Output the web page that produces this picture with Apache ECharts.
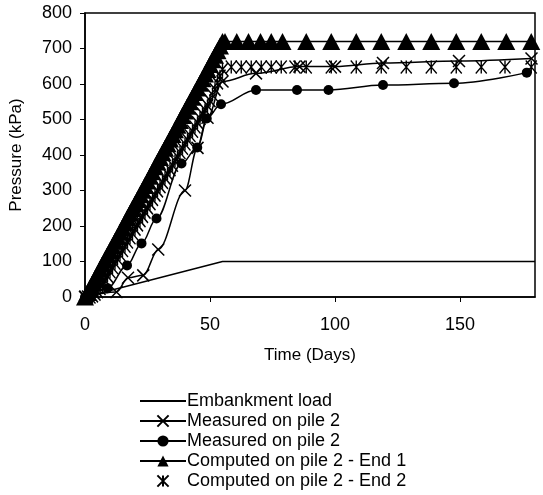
<!DOCTYPE html>
<html>
<head>
<meta charset="utf-8">
<script src="https://cdn.jsdelivr.net/npm/echarts@6/dist/echarts.min.js"></script>
<style>
html,body{margin:0;padding:0;background:#fff;}
#chart{width:543px;height:495px;}
</style>
</head>
<body>
<div id="chart"></div>
<script>
// ---- data ----
const embT = [0, 55, 180];
const embP = [0, 100, 100];

const measXT = [0, 12.6, 17.2, 23.3, 29.3, 40, 45, 49, 55, 68.4, 85.8, 100, 119.2, 149.6, 178.6];
const measXP = [0, 14, 54, 61, 134, 300, 420, 505, 607, 630, 649, 649, 659, 665, 672];

const measDT = [0, 9, 16.8, 22.6, 28.6, 38.6, 44.9, 48.7, 54.4, 68.4, 84.8, 97.4, 119.2, 147.6, 176.7];
const measDP = [0, 25, 89, 151, 221, 376, 421, 503, 543, 583, 583, 583, 597, 602, 632];

const comp1T = [0,1,2,3,4,5,6,7,8,9,10,11,12,13,14,15,16,17,18,19,20,21,22,23,24,25,26,27,28,29,30,31,32,33,34,35,36,37,38,39,40,41,42,43,44,45,46,47,48,49,50,51,52,53,54,55,
                56,60.7,65.4,70.2,74.5,79,88.5,98.5,108.5,118.5,128.5,138.5,148.5,158.5,168.5,178.5];
const comp1P = [0,13,26,39,52,65,79,92,105,118,131,144,157,170,183,196,209,223,236,249,262,275,288,301,314,327,340,353,367,380,393,406,419,432,445,458,471,484,497,511,524,537,550,563,576,589,602,615,628,641,655,668,681,694,707,720,
                720,720,720,720,720,720,720,720,720,720,720,720,720,720,720,720];

const comp2T = [0,1,2,3,4,5,6,7,8,9,10,11,12,13,14,15,16,17,18,19,20,21,22,23,24,25,26,27,28,29,30,31,32,33,34,35,36,37,38,39,40,41,42,43,44,45,46,47,48,49,50,51,52,53,54,55,
                58.5,62.5,66.5,70.5,74.5,78.5,84,88.5,98.5,108.5,118.5,128.5,138.5,148.5,158.5,168,178.5];
const comp2P = [0,0,0,3,8,15,24,35,47,59,71,83,95,107,119,131,143,155,167,179,191,203,215,227,239,251,263,275,287,299,311,323,335,347,359,371,383,395,407,419,431,443,455,467,479,491,503,515,527,539,553,569,585,603,622,641,
                648,648,648,648,648,648,648,648,648,648,648,648,648,648,648,648,648];

const xTicks = [0, 50, 100, 150];
const yTicks = [0, 100, 200, 300, 400, 500, 600, 700, 800];

const zip = (a, b) => a.map((v, i) => [v, b[i]]);

const FONT = 'Liberation Sans, Arial, sans-serif';
const X_PATH = 'path://M0,0L10,10M10,0L0,10';
const AST_PATH = 'path://M0,0L10,12M10,0L0,12M5,0L5,12';

const chart = echarts.init(document.getElementById('chart'), null, {renderer: 'canvas'});
chart.setOption({
  animation: false,
  backgroundColor: '#fff',
  textStyle: {fontFamily: FONT, color: '#000'},
  grid: {left: 85, right: 8, top: 13, bottom: 198, show: true, borderColor: '#000', borderWidth: 1.5, backgroundColor: 'transparent'},
  xAxis: {
    type: 'value', min: 0, max: 180, interval: 50,
    name: 'Time (Days)', nameLocation: 'middle', nameGap: 50,
    nameTextStyle: {fontSize: 17, color: '#000', fontFamily: FONT},
    axisLine: {show: true, lineStyle: {color: '#000', width: 1.5}},
    axisTick: {show: true, inside: false, length: 5, lineStyle: {color: '#000', width: 1}, customValues: xTicks},
    axisLabel: {fontSize: 18, color: '#000', margin: 19, fontFamily: FONT, customValues: xTicks},
    splitLine: {show: false}
  },
  yAxis: {
    type: 'value', min: 0, max: 800, interval: 100,
    name: 'Pressure (kPa)', nameLocation: 'middle', nameGap: 60, nameRotate: 90,
    nameTextStyle: {fontSize: 17, color: '#000', fontFamily: FONT},
    axisLine: {show: true, lineStyle: {color: '#000', width: 1.5}},
    axisTick: {show: true, inside: false, length: 5, lineStyle: {color: '#000', width: 1}, customValues: yTicks},
    axisLabel: {fontSize: 18, color: '#000', margin: 13, fontFamily: FONT, customValues: yTicks},
    splitLine: {show: false}
  },
  legend: {
    orient: 'vertical', left: 134, top: 386, height: 110,
    itemWidth: 46, itemHeight: 14, itemGap: 0,
    textStyle: {fontSize: 18, lineHeight: 20, color: '#000', fontFamily: FONT, padding: [0, 0, 0, -4]},
    data: [
      {name: 'Embankment load'},
      {name: 'Measured on pile 2'},
      {name: 'Measured on pile 2 '},
      {name: 'Computed on pile 2 - End 1'},
      {name: 'Computed on pile 2 - End 2'}
    ]
  },
  series: [
    {
      name: 'Embankment load', type: 'line', data: zip(embT, embP),
      symbol: 'rect', showSymbol: false,
      lineStyle: {color: '#000', width: 1.5}, itemStyle: {color: 'rgba(0,0,0,0)', borderWidth: 0}
    },
    {
      name: 'Measured on pile 2', type: 'line', data: zip(measXT, measXP),
      smooth: 0.35, smoothMonotone: 'x',
      symbol: X_PATH, symbolSize: 12, showAllSymbol: true,
      lineStyle: {color: '#000', width: 1.5},
      itemStyle: {color: '#000', borderColor: '#000', borderWidth: 1.5}
    },
    {
      name: 'Measured on pile 2 ', type: 'line', data: zip(measDT, measDP),
      smooth: 0.35, smoothMonotone: 'x',
      symbol: 'circle', symbolSize: 10, showAllSymbol: true,
      lineStyle: {color: '#000', width: 1.5},
      itemStyle: {color: '#000'}
    },
    {
      name: 'Computed on pile 2 - End 1', type: 'line', data: zip(comp1T, comp1P),
      symbol: 'triangle', symbolSize: [18, 17], showAllSymbol: true,
      lineStyle: {color: '#000', width: 1.5},
      itemStyle: {color: '#000'}
    },
    {
      name: 'Computed on pile 2 - End 2', type: 'line', data: zip(comp2T, comp2P),
      symbol: AST_PATH, symbolSize: [11, 13], showAllSymbol: true,
      lineStyle: {width: 0, opacity: 0},
      itemStyle: {color: '#000', borderColor: '#000', borderWidth: 1.5}
    }
  ]
});
</script>
</body>
</html>
